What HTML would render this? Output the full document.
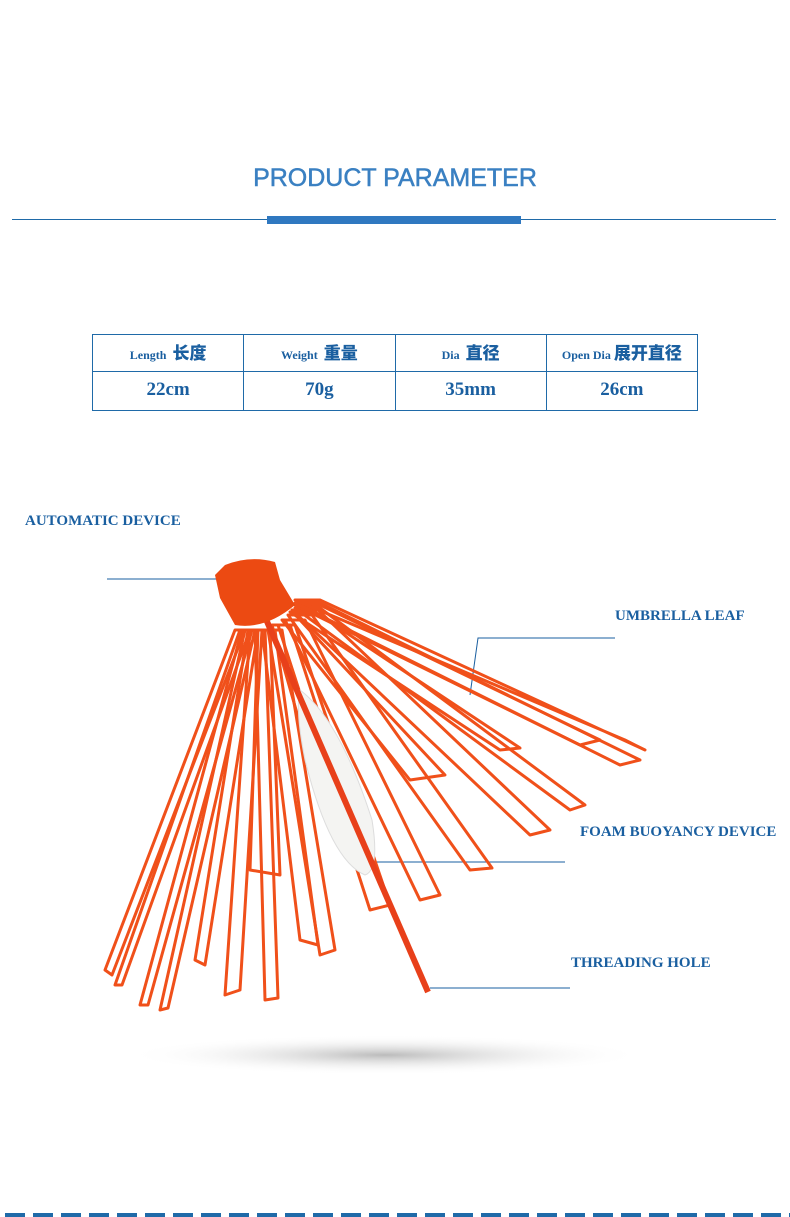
<!DOCTYPE html>
<html><head><meta charset="utf-8"><style>
body{margin:0;width:790px;height:1217px;background:#fff;position:relative;overflow:hidden;font-family:"Liberation Serif","Noto Serif CJK SC",serif}
.t{position:absolute;color:#1a5fa0;font-weight:bold}
table{position:absolute;left:92px;top:334px;border-collapse:collapse;width:606px}
td{border:1.5px solid #1f6aa8;height:36px;padding:0;text-align:center;color:#1a5fa0;font-weight:bold;width:25%;line-height:20px}
td.h{font-size:12px}td.h b{font-size:17px;font-family:"Noto Sans CJK SC",sans-serif;margin-left:6px}
td.v{font-size:19px;padding-bottom:2px}
</style></head><body>
<div class="t" style="left:0;width:790px;text-align:center;top:164px;font-family:'Liberation Sans',sans-serif;font-size:25px;color:#3a80c2;font-weight:normal;-webkit-text-stroke:0.5px #3a80c2">PRODUCT PARAMETER</div>
<div style="position:absolute;left:12px;top:219px;width:764px;height:1px;background:#1f6aa8"></div>
<div style="position:absolute;left:267px;top:216px;width:254px;height:8px;background:#2f78c0"></div>
<table><tr><td class="h">Length<b>长度</b></td><td class="h">Weight<b>重量</b></td><td class="h">Dia<b>直径</b></td><td class="h">Open Dia<b style="margin-left:3px">展开直径</b></td></tr>
<tr><td class="v">22cm</td><td class="v">70g</td><td class="v">35mm</td><td class="v">26cm</td></tr></table>
<div class="t" style="left:25px;top:513px;font-size:15px">AUTOMATIC DEVICE</div>
<div class="t" style="left:615px;top:608px;font-size:15px">UMBRELLA LEAF</div>
<div class="t" style="left:580px;top:824px;font-size:15px">FOAM BUOYANCY DEVICE</div>
<div class="t" style="left:571px;top:955px;font-size:15px">THREADING HOLE</div>
<svg width="790" height="1217" style="position:absolute;left:0;top:0">
<defs><radialGradient id="sh"><stop offset="0" stop-color="#bbb"/><stop offset="1" stop-color="#fff" stop-opacity="0"/></radialGradient></defs>
<ellipse cx="385" cy="1055" rx="260" ry="20" fill="url(#sh)"/>
<g stroke="#1a5fa0" stroke-width="1" fill="none">
<line x1="107" y1="579" x2="220" y2="579"/>
<polyline points="615,638 478,638 470,695"/>
<line x1="365" y1="862" x2="565" y2="862"/>
<line x1="430" y1="988" x2="570" y2="988"/>
</g>
<g stroke="#f0501a" stroke-width="3" fill="none" stroke-linejoin="round">
<polygon points="235,630 105,970 112,975 245,630"/>
<polygon points="240,630 115,985 122,985 250,630"/>
<polygon points="242,630 140,1005 148,1005 252,630"/>
<polygon points="245,630 160,1010 168,1008 255,630"/>
<polygon points="248,630 195,960 205,965 258,630"/>
<polygon points="250,630 225,995 240,990 262,630"/>
<polygon points="255,630 265,1000 278,998 265,630"/>
<polygon points="258,630 250,870 280,875 270,630"/>
<polygon points="262,630 300,940 318,945 275,630"/>
<polygon points="268,630 320,955 335,950 282,630"/>
<polygon points="272,625 330,830 355,825 290,625"/>
<polygon points="278,625 370,910 390,905 295,625"/>
<polygon points="282,620 410,780 445,775 300,620"/>
<polygon points="285,620 420,900 440,895 305,620"/>
<polygon points="288,615 470,870 492,868 312,615"/>
<polygon points="290,612 500,750 520,748 315,612"/>
<polygon points="292,610 530,835 550,830 318,610"/>
<polygon points="295,608 570,810 585,805 320,608"/>
<polygon points="295,605 580,745 600,740 320,605"/>
<polygon points="295,603 620,765 640,760 320,603"/>
<polygon points="295,600 625,740 645,750 320,600"/>
</g>
<path d="M300 690 Q340 720 372 820 Q380 870 365 875 Q330 860 305 760 Q295 710 300 690Z" fill="#f4f4f2" stroke="#ddd"/>
<line x1="262" y1="610" x2="428" y2="992" stroke="#e8401a" stroke-width="6"/>
<path d="M215 575 L225 565 Q250 555 275 562 L280 580 L295 605 Q265 630 235 625 L220 598 Z" fill="#ec4a12"/>
</svg>
<div style="position:absolute;left:5px;top:1213px;width:785px;height:4px;background:repeating-linear-gradient(90deg,#1f6aa8 0 20px,transparent 20px 28px)"></div>
</body></html>
